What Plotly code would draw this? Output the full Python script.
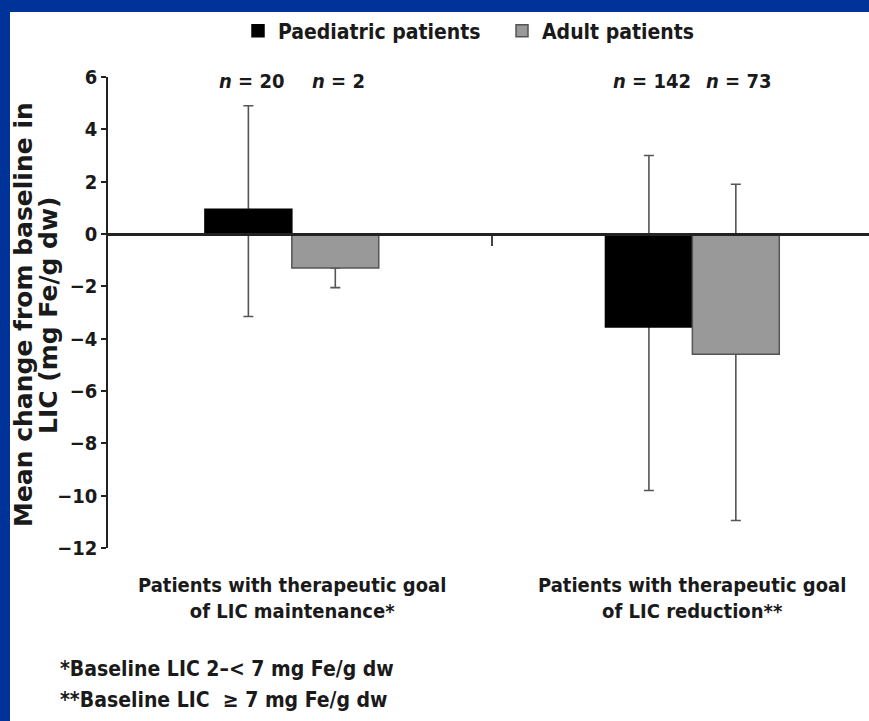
import plotly.graph_objects as go

# ---- data -------------------------------------------------------------
group_keys = ["maintenance", "reduction"]
group_labels = [
    "Patients with therapeutic goal<br>of LIC maintenance*",
    "Patients with therapeutic goal<br>of LIC reduction**",
]

paediatric_mean = [0.95, -3.55]
paediatric_err_plus = [3.95, 6.55]
paediatric_err_minus = [4.1, 6.25]
paediatric_n = [20, 142]

adult_mean = [-1.3, -4.6]
adult_err_plus = [0.0, 6.5]
adult_err_minus = [0.75, 6.35]
adult_n = [2, 73]

y_ticks = [6, 4, 2, 0, -2, -4, -6, -8, -10, -12]
y_title_lines = ["Mean change from baseline in", "LIC (mg Fe/g dw)"]

footnotes = [
    "*Baseline LIC 2\u2013< 7 mg Fe/g dw",
    "**Baseline LIC  \u2265 7 mg Fe/g dw",
]

# ---- styling ----------------------------------------------------------
W, H = 869, 721
M_L, M_R, M_T, M_B = 108, 0, 77, 173
FONT = "Liberation Sans Narrow, Arial Narrow, DejaVu Sans Condensed, sans-serif"
TITLE_FONT = "DejaVu Sans, sans-serif"
INK = "#1a1a1a"
BLUE = "#003399"
BARGAP = 0.566
X_RANGE = [-0.459, 1.441]

plot_w = W - M_L - M_R
plot_h = H - M_T - M_B
px_per_cat = plot_w / (X_RANGE[1] - X_RANGE[0])
bar_px = px_per_cat * (1 - BARGAP) / 2


def px_to_paper_x(px):
    return (px - M_L) / plot_w


def px_to_paper_y(py):
    return (H - M_B - py) / plot_h


series = [
    ("Paediatric patients", paediatric_mean, paediatric_err_plus,
     paediatric_err_minus, "#000000", "#000000", "paed"),
    ("Adult patients", adult_mean, adult_err_plus,
     adult_err_minus, "#999999", "#555555", "adult"),
]

fig = go.Figure()

# error bars first (on transparent bars) so the filled bars sit over them
for name, mean, ep, em, fill, edge, og in series:
    fig.add_trace(go.Bar(
        x=group_keys, y=mean, offsetgroup=og, showlegend=False,
        hoverinfo="skip",
        marker=dict(color="rgba(0,0,0,0)", line=dict(width=0)),
        error_y=dict(type="data", symmetric=False, array=ep, arrayminus=em,
                     color="#555555", thickness=1.6, width=5),
    ))

for name, mean, ep, em, fill, edge, og in series:
    fig.add_trace(go.Bar(
        name=name, x=group_keys, y=mean, offsetgroup=og,
        marker=dict(color=fill, line=dict(color=edge, width=1.5)),
    ))

annotations = []

# sample sizes above each bar
for counts, sign in ((paediatric_n, -1), (adult_n, 1)):
    for key, n in zip(group_keys, counts):
        annotations.append(dict(
            x=key, y=5.85, xref="x", yref="y", xshift=sign * bar_px / 2 + 3,
            text=f"<i>n</i> = {n}", showarrow=False, yanchor="middle",
            font=dict(family=FONT, size=20, color=INK, weight="bold"),
        ))

# category labels under the plot
for key, label in zip(group_keys, group_labels):
    annotations.append(dict(
        x=key, y=0, xref="x", yref="paper", yanchor="top", yshift=-23,
        text=label, showarrow=False,
        font=dict(family=FONT, size=20, color=INK, weight="bold"),
    ))

# y-axis title, one annotation per line
for text, px in zip(y_title_lines, (23, 48)):
    annotations.append(dict(
        x=px_to_paper_x(px), y=px_to_paper_y(315), xref="paper",
        yref="paper", text=text, textangle=-90, showarrow=False,
        xanchor="center", yanchor="middle",
        font=dict(family=TITLE_FONT, size=25, color=INK, weight="bold"),
    ))

# footnotes
for text, py in zip(footnotes, (669, 700)):
    annotations.append(dict(
        x=px_to_paper_x(58), y=px_to_paper_y(py), xref="paper", yref="paper",
        text=text, showarrow=False, xanchor="left", yanchor="middle",
        font=dict(family=FONT, size=21, color=INK, weight="bold"),
    ))

fig.update_layout(
    width=W, height=H,
    margin=dict(l=M_L, r=M_R, t=M_T, b=M_B, pad=0),
    paper_bgcolor=BLUE, plot_bgcolor="white",
    barmode="group", bargap=BARGAP, bargroupgap=0,
    font=dict(family=FONT, color=INK),
    showlegend=True,
    legend=dict(
        orientation="h", x=px_to_paper_x(238), xanchor="left",
        y=px_to_paper_y(31), yanchor="middle",
        entrywidth=219, entrywidthmode="pixels",
        font=dict(family=FONT, size=21, color=INK, weight="bold"),
        bgcolor="rgba(0,0,0,0)", traceorder="normal",
    ),
    shapes=[dict(
        type="rect", xref="paper", yref="paper", layer="below",
        x0=px_to_paper_x(10), x1=1.02, y0=px_to_paper_y(H + 10),
        y1=px_to_paper_y(12), fillcolor="white", line=dict(width=0),
    )],
    annotations=annotations,
    xaxis=dict(
        type="category", range=X_RANGE, anchor="free",
        position=12 / 18, showline=True, linecolor="#222222", linewidth=2.5,
        ticks="outside", tickson="boundaries", ticklen=10, tickwidth=2,
        tickcolor="#444444", showticklabels=False, showgrid=False,
        zeroline=False,
    ),
    yaxis=dict(
        range=[-12, 6], tickvals=y_ticks, ticks="outside", ticklen=5,
        tickwidth=1.5, tickcolor="#222222", showline=True,
        linecolor="#222222", linewidth=1.5, showgrid=False, zeroline=False,
        ticklabelstandoff=0,
        tickfont=dict(family=FONT, size=20, color=INK, weight="bold"),
    ),
)

fig.write_html("out.html")
